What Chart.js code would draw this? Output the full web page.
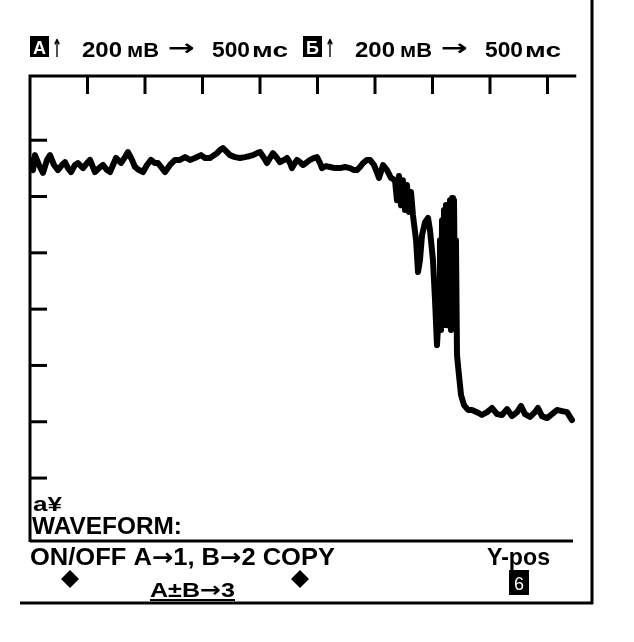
<!DOCTYPE html>
<html><head><meta charset="utf-8">
<script src="https://cdn.jsdelivr.net/npm/chart.js@4/dist/chart.umd.min.js"></script>
<style>html,body{margin:0;padding:0;background:#fff;}#wrap{width:634px;height:642px;position:relative;background:#fff}</style>
</head><body><div id="wrap"><canvas id="c" width="634" height="642"></canvas></div>
<script>
// time (ms, 500 ms/div) and voltage (mV, 200 mV/div)
const timeMs = [0,26,43,78,113,148,174,209,243,278,304,330,357,391,417,461,496,522,565,600,635,670,696,722,748,791,826,852,887,913,948,983,1017,1052,1087,1113,1148,1174,1217,1261,1304,1348,1391,1435,1487,1522,1565,1600,1626,1652,1678,1713,1739,1783,1826,1870,1913,1939,1974,2000,2035,2061,2087,2113,2148,2174,2209,2235,2261,2278,2304,2322,2348,2374,2409,2435,2470,2496,2522,2539,2574,2609,2652,2696,2739,2783,2817,2843,2870,2896,2930,2957,2991,3009,3035,3070,3104,3139,3174,3191,3209,3226,3243,3261,3278,3296,3313,3330,3357,3374,3391,3409,3435,3461,3478,3504,3522,3539,3557,3565,3574,3583,3591,3600,3609,3617,3626,3635,3643,3652,3661,3670,3678,3687,3696,3704,3713,3730,3748,3774,3809,3843,3887,3930,3974,4017,4061,4104,4148,4191,4235,4270,4304,4348,4391,4417,4452,4496,4539,4583,4626,4670,4713];
const voltMv = [1130,1094,1147,1112,1084,1130,1147,1112,1094,1112,1122,1101,1087,1112,1119,1101,1119,1130,1087,1101,1112,1094,1087,1112,1137,1119,1140,1158,1130,1105,1094,1087,1112,1130,1119,1119,1101,1087,1112,1130,1130,1140,1130,1137,1147,1137,1137,1147,1154,1165,1172,1158,1147,1140,1137,1140,1144,1147,1154,1158,1137,1119,1137,1154,1137,1122,1130,1137,1119,1101,1119,1130,1122,1112,1122,1130,1137,1140,1119,1101,1108,1105,1101,1101,1105,1101,1094,1094,1105,1119,1130,1130,1112,1094,1066,1112,1094,1066,1058,987,1073,969,1058,952,1041,945,1016,934,845,732,774,863,909,924,881,774,632,472,597,845,526,916,543,952,561,970,543,970,561,987,526,995,561,987,597,845,437,366,295,259,242,242,234,224,234,249,227,224,245,220,234,256,227,217,234,249,220,213,227,242,238,234,206];
// graticule ticks
const timeTicksMs = [500,1000,1500,2000,2500,3000,3500,4000,4500];
const voltTicksMv = [0,200,400,600,800,1000,1200];
// texts
const headerParts = ["↑","200","мВ","→","500","мс"];
const chanLabels = ["A","Б"];
const menuLine1 = "ON/OFF A→1, B→2 COPY";
const menuLine2 = "A±B→3";
const yposLabel = "Y-pos";
const yposKey = "6";
const waveLabel = "WAVEFORM:";
const axLabel = "a¥";

const FONT = '"Liberation Sans", Arial, sans-serif';
const AFONT = '"DejaVu Sans", sans-serif';

function fitText(ctx, text, x, y, w, size, arrowSize) {
  const parts = [];
  let buf = '';
  for (const ch of text) {
    if (ch === '→' || ch === '↑') { if (buf) parts.push([buf, false]); buf=''; parts.push([ch, true]); }
    else buf += ch;
  }
  if (buf) parts.push([buf, false]);
  const fonts = parts.map(p => p[1] ? 'bold ' + (arrowSize || size) + 'px ' + AFONT : 'bold ' + size + 'px ' + FONT);
  let total = 0;
  parts.forEach((p, i) => { ctx.font = fonts[i]; total += ctx.measureText(p[0]).width; });
  ctx.save();
  ctx.translate(x, y);
  ctx.scale(w / total, 1);
  let cx = 0;
  ctx.textAlign = 'left';
  parts.forEach((p, i) => { ctx.font = fonts[i]; ctx.fillText(p[0], cx, 0); cx += ctx.measureText(p[0]).width; });
  ctx.restore();
}

const scopePlugin = {
  id: 'scope',
  afterDraw(chart) {
    const ctx = chart.ctx;
    const xs = chart.scales.x, ys = chart.scales.y;
    const L = xs.getPixelForValue(0), T = chart.chartArea.top - 2;
    ctx.save();
    ctx.fillStyle = '#000';
    ctx.strokeStyle = '#000';
    ctx.lineCap = 'butt';
    ctx.lineWidth = 3;
    ctx.beginPath();
    ctx.moveTo(L - 1.5, T); ctx.lineTo(xs.getPixelForValue(4750), T);
    ctx.moveTo(L, T); ctx.lineTo(L, 542);
    ctx.stroke();
    timeTicksMs.forEach(t => {
      const x = xs.getPixelForValue(t);
      ctx.beginPath(); ctx.moveTo(x, T); ctx.lineTo(x, T + 18); ctx.stroke();
    });
    voltTicksMv.forEach(v => {
      const y = ys.getPixelForValue(v);
      ctx.beginPath(); ctx.moveTo(L, y); ctx.lineTo(L + 17, y); ctx.stroke();
    });
    ctx.beginPath();
    ctx.moveTo(592, 0); ctx.lineTo(592, 604);
    ctx.moveTo(20, 603); ctx.lineTo(593, 603);
    ctx.moveTo(L, 541); ctx.lineTo(573, 541);
    ctx.stroke();

    ctx.textBaseline = 'alphabetic';
    const drawHeader = (x0, label) => {
      ctx.fillStyle = '#000';
      ctx.fillRect(x0, 36, 19, 21);
      ctx.fillStyle = '#fff';
      ctx.font = 'bold 18px ' + FONT;
      ctx.textAlign = 'center';
      ctx.fillText(label, x0 + 9.5, 54);
      ctx.fillStyle = '#000';
      fitText(ctx, headerParts[0], x0 + 22, 57, 10, 25);
      fitText(ctx, headerParts[1], x0 + 52, 57, 40, 22);
      fitText(ctx, headerParts[2], x0 + 97, 57, 32, 20);
      fitText(ctx, headerParts[3], x0 + 138, 55, 27, 22);
      fitText(ctx, headerParts[4], x0 + 182, 57, 38, 22);
      fitText(ctx, headerParts[5], x0 + 222, 57, 36, 20);
    };
    drawHeader(30, chanLabels[0]);
    drawHeader(303, chanLabels[1]);

    ctx.fillStyle = '#000';
    fitText(ctx, axLabel, 33, 511, 29, 20);
    fitText(ctx, waveLabel, 32, 534, 150, 24);
    fitText(ctx, menuLine1, 30, 565, 305, 23, 23);
    fitText(ctx, yposLabel, 487, 565, 63, 23);
    fitText(ctx, menuLine2, 150, 597, 85, 21, 21);
    ctx.fillRect(150, 599, 85, 2);
    const diamond = (cx, cy, r) => {
      ctx.beginPath();
      ctx.moveTo(cx, cy - r); ctx.lineTo(cx + r, cy); ctx.lineTo(cx, cy + r); ctx.lineTo(cx - r, cy);
      ctx.closePath(); ctx.fill();
    };
    diamond(70, 579, 9);
    diamond(300, 579, 9);
    ctx.fillRect(509, 570, 20, 25);
    ctx.fillStyle = '#fff';
    ctx.font = '18px ' + FONT;
    ctx.textAlign = 'center';
    ctx.fillText(yposKey, 519, 590);
    ctx.restore();
  }
};

new Chart(document.getElementById('c'), {
  type: 'line',
  data: {
    datasets: [{
      data: timeMs.map((t, i) => ({x: t, y: voltMv[i]})),
      borderColor: '#000',
      borderWidth: 6,
      pointRadius: 0,
      tension: 0,
      borderJoinStyle: 'round',
      borderCapStyle: 'round',
      fill: false
    }]
  },
  options: {
    responsive: false,
    animation: false,
    devicePixelRatio: 1,
    layout: {padding: {left: 30, right: 29, top: 78, bottom: 102}},
    plugins: {legend: {display: false}, tooltip: {enabled: false}},
    scales: {
      x: {type: 'linear', min: 0, max: 5000, display: false},
      y: {type: 'linear', min: -220, max: 1421, display: false}
    }
  },
  plugins: [scopePlugin]
});
</script>
</body></html>
